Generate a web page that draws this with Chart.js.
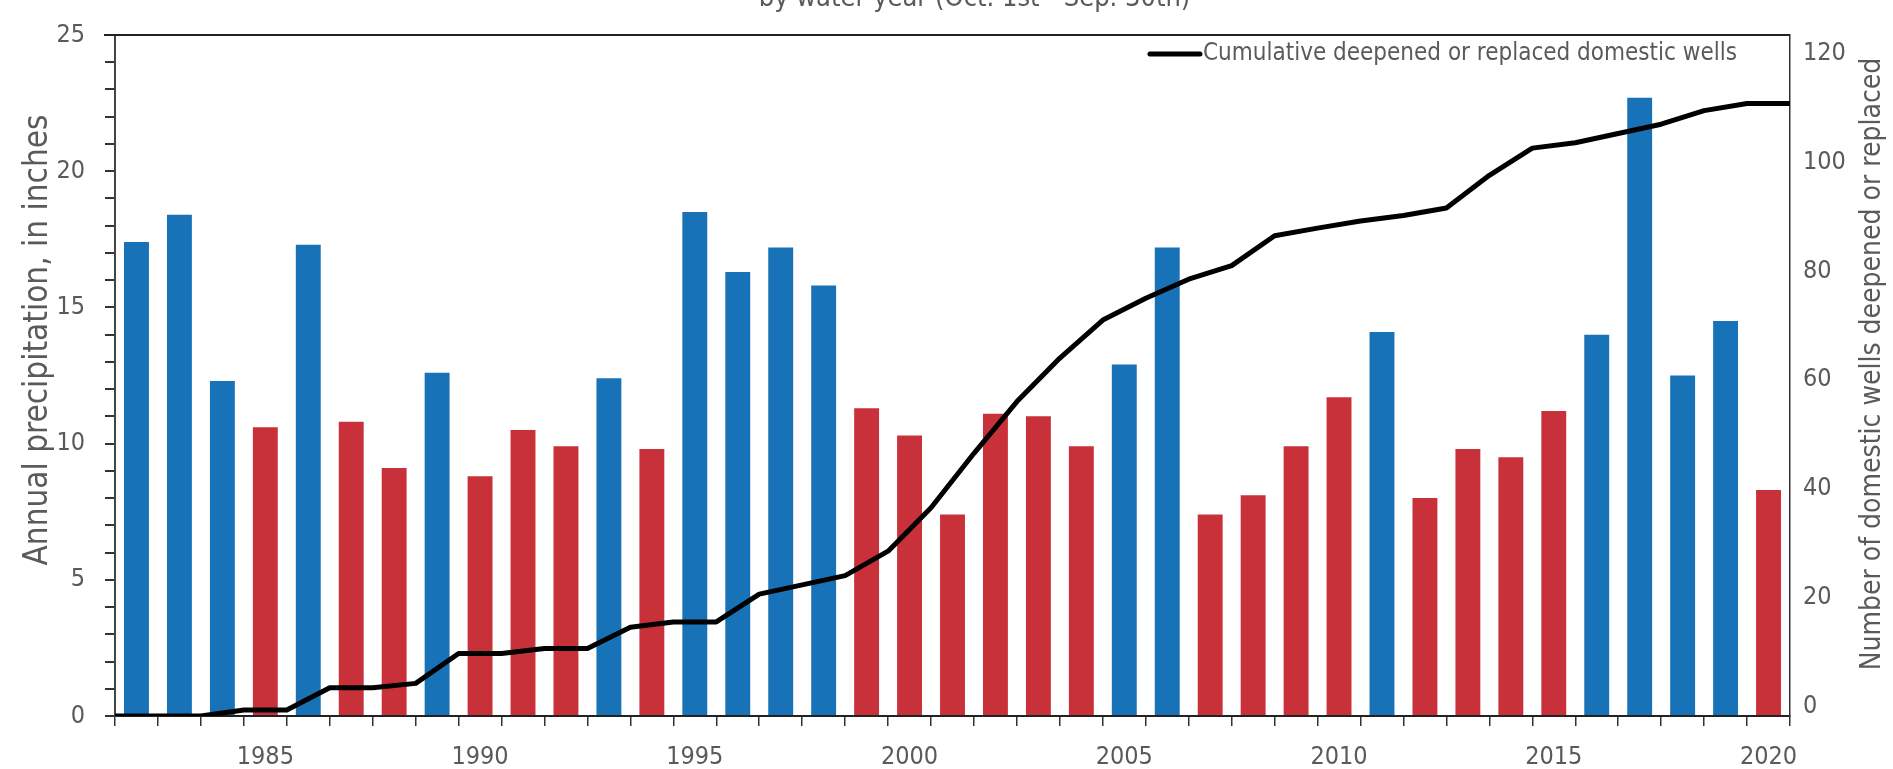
<!DOCTYPE html>
<html>
<head>
<meta charset="utf-8">
<script src="https://cdn.jsdelivr.net/npm/chart.js@4.4.1/dist/chart.umd.min.js"></script>
<style>
  html, body { margin: 0; padding: 0; background: #ffffff; overflow: hidden; }
  canvas { display: block; }
</style>
</head>
<body>
<canvas id="chart" width="1893" height="769"></canvas>
<script>
// ---------------- DATA ----------------
const years = [1982,1983,1984,1985,1986,1987,1988,1989,1990,1991,1992,1993,1994,1995,1996,1997,1998,1999,2000,2001,2002,2003,2004,2005,2006,2007,2008,2009,2010,2011,2012,2013,2014,2015,2016,2017,2018,2019,2020];

// Annual precipitation by water year, inches
const precip = [17.4,18.4,12.3,10.6,17.3,10.8,9.1,12.6,8.8,10.5,9.9,12.4,9.8,18.5,16.3,17.2,15.8,11.3,10.3,7.4,11.1,11.0,9.9,12.9,17.2,7.4,8.1,9.9,11.7,14.1,8.0,9.8,9.5,11.2,14.0,22.7,12.5,14.5,8.3];

// Wetter (blue) or drier (red) year
const yearClass = ['wet','wet','wet','dry','wet','dry','dry','wet','dry','dry','dry','wet','dry','wet','wet','wet','wet','dry','dry','dry','dry','dry','dry','wet','wet','dry','dry','dry','dry','wet','dry','dry','dry','dry','wet','wet','wet','wet','dry'];

// Cumulative deepened or replaced domestic wells, at the end of each water year
const wellYears = [1981,1982,1983,1984,1985,1986,1987,1988,1989,1990,1991,1992,1993,1994,1995,1996,1997,1998,1999,2000,2001,2002,2003,2004,2005,2006,2007,2008,2009,2010,2011,2012,2013,2014,2015,2016,2017,2018,2019,2020];
const cumulativeWells = [-1.8,-1.8,-1.8,-0.7,-0.7,3.4,3.4,4.2,9.7,9.7,10.6,10.6,14.5,15.5,15.5,20.6,22.3,24.0,28.5,36.5,46.5,56.0,64.0,71.0,75.0,78.5,81.0,86.5,87.9,89.2,90.2,91.6,97.6,102.6,103.6,105.3,107.0,109.5,110.8,110.8];

// Tick labels
const xTickLabels = [1985,1990,1995,2000,2005,2010,2015,2020];
const leftTicks = [0,1,2,3,4,5,6,7,8,9,10,11,12,13,14,15,16,17,18,19,20,21,22,23,24,25];
const leftTickLabels = [0,5,10,15,20,25];
const rightTicks = [0,20,40,60,80,100,120];

const subtitleText = 'by water year (Oct. 1st - Sep. 30th)';
const leftTitle = 'Annual precipitation, in inches';
const rightTitle = 'Number of domestic wells deepened or replaced';
const lineLabel = 'Cumulative deepened or replaced domestic wells';

// ---------------- STYLE ----------------
const FONT = "'DejaVu Sans Condensed','Liberation Sans Narrow','Arial Narrow',sans-serif";
const TEXT = '#5a5a5a';
const COLORS = { wet: '#1772b7', dry: '#c9313a' };

Chart.defaults.font.family = FONT;
Chart.defaults.color = TEXT;

const decor = {
  id: 'decor',
  afterDraw(chart) {
    const ctx = chart.ctx;
    const a = chart.chartArea;
    ctx.save();
    // top frame line
    ctx.strokeStyle = '#222';
    ctx.lineWidth = 2;
    ctx.beginPath();
    ctx.moveTo(a.left - 11, a.top);
    ctx.lineTo(a.right, a.top);
    ctx.stroke();

    ctx.fillStyle = TEXT;

    // clipped subtitle at the very top
    ctx.font = '27px ' + FONT;
    ctx.textAlign = 'center';
    ctx.textBaseline = 'alphabetic';
    ctx.fillText(subtitleText, (a.left + a.right) / 2 + 22, 6);

    // left axis title (reads bottom-to-top)
    ctx.save();
    ctx.font = '33px ' + FONT;
    ctx.translate(38, 340);
    ctx.rotate(-Math.PI / 2);
    ctx.textAlign = 'center';
    ctx.textBaseline = 'middle';
    ctx.fillText(leftTitle, 0, 0);
    ctx.restore();

    // right axis title (reads bottom-to-top)
    ctx.save();
    ctx.font = '28px ' + FONT;
    ctx.translate(1873, 364);
    ctx.rotate(-Math.PI / 2);
    ctx.textAlign = 'center';
    ctx.textBaseline = 'middle';
    ctx.fillText(rightTitle, 0, 0);
    ctx.restore();

    // legend inside the plot, top right
    ctx.font = '24px ' + FONT;
    ctx.textAlign = 'right';
    ctx.textBaseline = 'middle';
    const tx = a.right - 53;
    const ty = a.top + 19;
    ctx.fillText(lineLabel, tx, ty);
    const w = ctx.measureText(lineLabel).width;
    ctx.strokeStyle = '#000';
    ctx.lineWidth = 5;
    ctx.lineCap = 'round';
    ctx.beginPath();
    ctx.moveTo(tx - w - 53, ty);
    ctx.lineTo(tx - w - 3, ty);
    ctx.stroke();
    ctx.restore();
  }
};

new Chart(document.getElementById('chart'), {
  data: {
    labels: years,
    datasets: [
      {
        type: 'line',
        label: lineLabel,
        data: cumulativeWells,
        xAxisID: 'xLine',
        yAxisID: 'y1',
        borderColor: '#000',
        borderWidth: 5,
        pointRadius: 0,
        tension: 0,
        fill: false,
        borderJoinStyle: 'round',
        order: 0
      },
      {
        type: 'bar',
        label: 'Annual precipitation',
        data: precip,
        xAxisID: 'x',
        yAxisID: 'y',
        backgroundColor: yearClass.map(c => COLORS[c]),
        grouped: false,
        barPercentage: 0.58,
        categoryPercentage: 1.0,
        order: 1
      }
    ]
  },
  options: {
    responsive: false,
    animation: false,
    layout: { padding: { top: 19, left: 0, right: 0, bottom: 0 } },
    plugins: {
      legend: { display: false },
      tooltip: { enabled: false },
      title: { display: false }
    },
    scales: {
      x: {
        type: 'category',
        labels: years,
        offset: true,
        grid: { offset: true, drawOnChartArea: false, drawTicks: true, tickLength: 10, color: '#333', lineWidth: 1.5 },
        border: { display: true, color: '#222', width: 2 },
        ticks: {
          autoSkip: false, maxRotation: 0, minRotation: 0, padding: 16,
          font: { size: 25 }, color: TEXT,
          callback(value, index) { const y = years[index]; return xTickLabels.includes(y) ? String(y) : ''; }
        },
        afterFit(s) { s.height = 53; }
      },
      xLine: {
        type: 'category',
        labels: wellYears,
        offset: false,
        display: false
      },
      y: {
        type: 'linear',
        position: 'left',
        min: 0,
        max: 25,
        afterBuildTicks(s) { s.ticks = leftTicks.map(v => ({ value: v })); },
        ticks: {
          autoSkip: false,
          padding: 20, font: { size: 25 }, color: TEXT,
          callback(v) { return leftTickLabels.includes(v) ? String(v) : ''; }
        },
        grid: { drawOnChartArea: false, drawTicks: true, tickLength: 10, color: '#333', lineWidth: 2 },
        border: { display: true, color: '#444', width: 2 },
        afterFit(s) { s.width = 115; }
      },
      y1: {
        type: 'linear',
        position: 'right',
        min: -1.8,
        max: 123.4,
        afterBuildTicks(s) { s.ticks = rightTicks.map(v => ({ value: v })); },
        ticks: { autoSkip: false, padding: 13, font: { size: 25 }, color: TEXT },
        grid: { drawOnChartArea: false, drawTicks: false },
        border: { display: true, color: '#333', width: 1.5 },
        afterFit(s) { s.width = 103; }
      }
    }
  },
  plugins: [decor]
});
</script>
</body>
</html>
